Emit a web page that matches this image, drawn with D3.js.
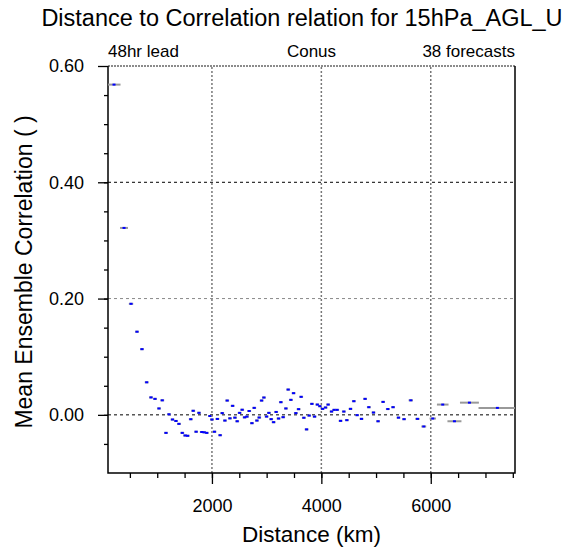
<!DOCTYPE html>
<html>
<head>
<meta charset="utf-8">
<script src="https://cdn.jsdelivr.net/npm/d3@7"></script>
<style>
  body { margin: 0; background: #fff; }
  text { font-family: "Liberation Sans", Arial, Helvetica, sans-serif; fill: #000; }
</style>
</head>
<body>
<svg width="573" height="550"></svg>
<script>
const width = 573, height = 550;
const marginTop = 66;
const marginRight = 58;
const marginBottom = 77;
const marginLeft = 108;
const svg = d3.select("svg");

// bin centre distance (km)
const distance = [
  210, 393, 521, 630, 721, 807, 886, 959, 1032, 1092,
  1160, 1215, 1279, 1342, 1397, 1458, 1510, 1556, 1613, 1658,
  1711, 1763, 1814, 1858, 1905, 1963, 2000, 2046, 2100, 2150,
  2188, 2237, 2279, 2329, 2378, 2420, 2462, 2506, 2553, 2597,
  2639, 2681, 2731, 2773, 2822, 2864, 2908, 2950, 2999, 3041,
  3083, 3127, 3174, 3218, 3260, 3302, 3352, 3394, 3443, 3492,
  3534, 3584, 3631, 3680, 3730, 3777, 3827, 3876, 3927, 3973,
  4022, 4077, 4124, 4186, 4234, 4289, 4351, 4411, 4466, 4533,
  4594, 4654, 4734, 4800, 4868, 4953, 5037, 5129, 5215, 5311,
  5410, 5512, 5635, 5757, 5872, 6037, 6219, 6433, 6707, 7218
];

// mean ensemble correlation per bin
const correlation = [
  0.568, 0.3215, 0.191, 0.143, 0.113, 0.056, 0.030, 0.0275, 0.011, 0.025,
  -0.031, 0.001, -0.008, -0.0105, -0.0155, -0.031, -0.0355, -0.036, -0.0075, 0.007,
  -0.029, 0.0035, -0.0295, -0.030, -0.031, -0.002, -0.008, -0.029, -0.007, -0.035,
  0.003, -0.0098, 0.0246, -0.006, 0.0155, -0.0048, -0.011, 0.0034, 0.0088, -0.0043,
  -0.003, 0.0066, -0.0143, 0.012, -0.0098, -0.0046, 0.0246, 0.0298, -0.0029, 0.0034,
  -0.0074, -0.0126, 0.005, -0.0063, 0.0218, -0.004, 0.011, 0.0435, 0.0258, 0.0373,
  0.003, 0.0098, 0.031, -0.005, -0.025, -0.0012, 0.0189, -0.003, 0.0177, 0.0149,
  0.0103, 0.0126, 0.0177, 0.0057, 0.0086, 0.0086, -0.0103, 0.0057, -0.0091, 0.0103,
  0.0235, -0.0005, -0.0069, 0.0275, 0.0132, 0.004, -0.011, 0.0223, 0.0100, 0.0132,
  -0.0048, -0.0074, 0.025, -0.0069, -0.020, -0.0063, 0.0177, -0.011, 0.021, 0.012
];

// half spread of distances inside each bin (km)
const spread = [
  119, 73, 40, 35, 35, 35, 35, 35, 35, 35,
  35, 35, 35, 35, 35, 35, 35, 35, 35, 35,
  35, 35, 35, 35, 35, 35, 35, 35, 35, 35,
  35, 35, 35, 35, 35, 35, 35, 35, 35, 35,
  35, 35, 35, 35, 35, 35, 35, 35, 35, 35,
  35, 35, 35, 35, 35, 35, 35, 35, 35, 35,
  35, 35, 35, 35, 35, 35, 35, 35, 35, 35,
  35, 35, 35, 35, 35, 35, 35, 35, 35, 35,
  35, 35, 35, 35, 35, 35, 35, 35, 35, 35,
  35, 35, 40, 40, 45, 58, 106, 128, 173, 345
];

const xTicks = [2000, 4000, 6000];
const yTicks = [0.0, 0.2, 0.4, 0.6];
const subtitles = ["48hr lead", "Conus", "38 forecasts"];

const data = distance.map((d, i) => ({ dist: d, corr: correlation[i], sp: spread[i] }));

const xScale = d3.scaleLinear()
  .domain([100, 7540])
  .range([marginLeft, width - marginRight]);

const yScale = d3.scaleLinear()
  .domain([-0.1, 0.6])
  .range([height - marginBottom, marginTop]);

const x0 = marginLeft, x1 = width - marginRight;
const y0 = height - marginBottom, y1 = marginTop;

// grid lines
svg.append("g")
  .selectAll("line")
  .data(xTicks)
  .join("line")
  .attr("x1", d => xScale(d)).attr("x2", d => xScale(d))
  .attr("y1", y0).attr("y2", y1)
  .attr("stroke", "#777")
  .attr("stroke-width", 1.5)
  .attr("stroke-dasharray", "2,2");

svg.append("g")
  .selectAll("line")
  .data(yTicks.filter(d => d < 0.6))
  .join("line")
  .attr("x1", x0).attr("x2", x1)
  .attr("y1", d => yScale(d)).attr("y2", d => yScale(d))
  .attr("stroke", d => d === 0.2 ? "#888" : "#000")
  .attr("stroke-width", 1)
  .attr("stroke-dasharray", "3,3");

// top edge dotted (grid at 0.6 sits on frame)
svg.append("line")
  .attr("x1", x0).attr("x2", x1)
  .attr("y1", yScale(0.6)).attr("y2", yScale(0.6))
  .attr("stroke", "#666")
  .attr("stroke-width", 1.5)
  .attr("stroke-dasharray", "2,1");

// axes
const xAxisMinor = d3.axisBottom(xScale).tickValues(d3.range(500, 7501, 500)).tickSize(5).tickFormat("");
const xAxis = d3.axisBottom(xScale).tickValues(xTicks).tickSize(11).tickFormat(d3.format("d")).tickPadding(15);
const yAxisMinor = d3.axisLeft(yScale).tickValues(d3.range(-0.05, 0.6, 0.05)).tickSize(4).tickFormat("");
const yAxis = d3.axisLeft(yScale).tickValues(yTicks).tickSize(10).tickFormat(d3.format(".2f")).tickPadding(14);

function styleAxis(g) {
  g.select(".domain").remove();
  g.selectAll("line").attr("stroke", "#000").attr("stroke-width", 1.3);
  g.selectAll("text").style("font-size", "18px").attr("fill", "#000");
}

svg.append("g").attr("transform", `translate(0,${y0})`).call(xAxisMinor).call(styleAxis);
svg.append("g").attr("transform", `translate(0,${y0})`).call(xAxis).call(styleAxis);
svg.append("g").attr("transform", `translate(${x0},0)`).call(yAxisMinor).call(styleAxis);
svg.append("g").attr("transform", `translate(${x0},0)`).call(yAxis).call(styleAxis);

// frame (left, bottom, right)
svg.append("path")
  .attr("d", `M${x0},${y1}V${y0}H${x1}V${y1}`)
  .attr("fill", "none")
  .attr("stroke", "#000")
  .attr("stroke-width", 1.5);

// spread bars
const plot = svg.append("g");
plot.selectAll("line.spread")
  .data(data)
  .join("line")
  .attr("class", "spread")
  .attr("x1", d => Math.max(x0, xScale(d.dist - d.sp)))
  .attr("x2", d => Math.min(x1, xScale(d.dist + d.sp)))
  .attr("y1", d => yScale(d.corr))
  .attr("y2", d => yScale(d.corr))
  .attr("stroke", "#999")
  .attr("stroke-width", 2);

// markers
plot.selectAll("rect.pt")
  .data(data)
  .join("rect")
  .attr("class", "pt")
  .attr("x", d => xScale(d.dist) - 1.5)
  .attr("y", d => yScale(d.corr) - 1)
  .attr("width", 3)
  .attr("height", 2)
  .attr("fill", "#0000ff");

// title
svg.append("text")
  .attr("x", 302)
  .attr("y", 26)
  .attr("text-anchor", "middle")
  .style("font-size", "23.5px")
  .text("Distance to Correlation relation for 15hPa_AGL_U");

// sub titles
svg.selectAll("text.sub")
  .data(subtitles)
  .join("text")
  .attr("class", "sub")
  .attr("x", (d, i) => [x0, (x0 + x1) / 2, x1][i])
  .attr("y", 57)
  .attr("text-anchor", (d, i) => ["start", "middle", "end"][i])
  .style("font-size", "17px")
  .text(d => d);

// axis labels
svg.append("text")
  .attr("x", (x0 + x1) / 2)
  .attr("y", 542)
  .attr("text-anchor", "middle")
  .style("font-size", "22.5px")
  .text("Distance (km)");

svg.append("text")
  .attr("transform", "rotate(-90)")
  .attr("x", -272)
  .attr("y", 32)
  .attr("text-anchor", "middle")
  .style("font-size", "23px")
  .text("Mean Ensemble Correlation ( )");
</script>
</body>
</html>
